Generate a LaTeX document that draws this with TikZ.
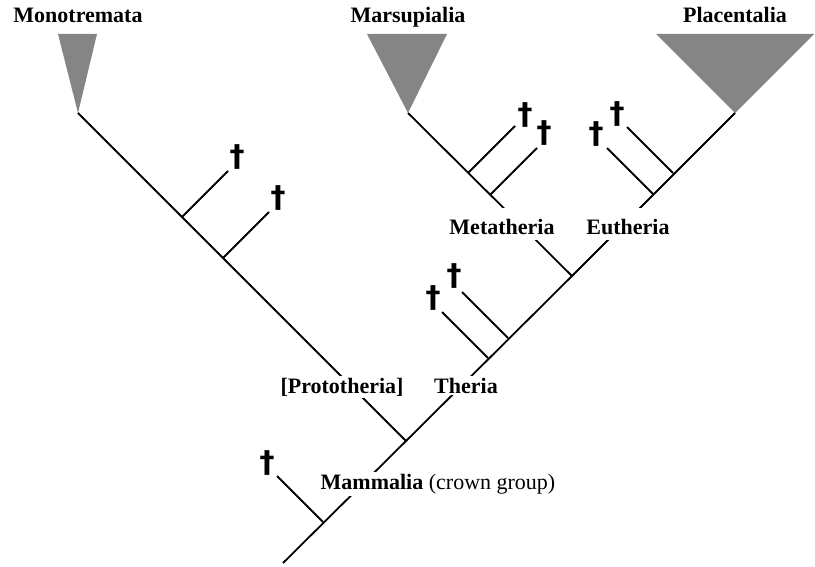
\documentclass[tikz,border=0pt]{standalone}
\usepackage{fontspec}
\setmainfont{Liberation Serif}
\newfontfamily\daggerfont{DejaVu Sans}
\tikzstyle{branch} = [draw, line width=1.8pt]
\tikzstyle{clade} = [draw=none, fill=black!48]
\tikzstyle{taxon} = [font=\fontsize{22}{26}\selectfont\bfseries, inner sep=0pt, anchor=base]
\tikzstyle{grouplabel} = [font=\fontsize{22}{26}\selectfont, fill=white, inner xsep=3pt, inner ysep=2pt, anchor=base]
\tikzstyle{extinct} = [font=\daggerfont\fontsize{30}{34}\selectfont\bfseries, inner sep=0pt]

\begin{document}
\begin{tikzpicture}[x=1pt, y=-1pt]
  \useasboundingbox (0,0) rectangle (815,567);

  \coordinate (root) at (283,563);
  \coordinate (stem) at (323,522);
  \coordinate (mammalia) at (406,441);
  \coordinate (proto_a) at (223,258);
  \coordinate (proto_b) at (182,217);
  \coordinate (theria_a) at (488,358);
  \coordinate (theria_b) at (508,338);
  \coordinate (theria) at (572,276);
  \coordinate (meta_a) at (490,195);
  \coordinate (meta_b) at (468,173);
  \coordinate (eu_a) at (653,194);
  \coordinate (eu_b) at (673,173);
  \coordinate (mono) at (78,113);
  \coordinate (mars) at (408,113);
  \coordinate (plac) at (735,113);

  \coordinate (stem_f) at (277,476);
  \coordinate (proto_a_f) at (269,212);
  \coordinate (proto_b_f) at (228,171);
  \coordinate (theria_a_f) at (442,312);
  \coordinate (theria_b_f) at (462,292);
  \coordinate (meta_a_f) at (537,148);
  \coordinate (meta_b_f) at (515,126);
  \coordinate (eu_a_f) at (607,148);
  \coordinate (eu_b_f) at (627,127);

  \fill [clade] (58,34) -- (97,34) -- (mono) -- cycle;
  \fill [clade] (367,34) -- (447,34) -- (mars) -- cycle;
  \fill [clade] (656,34) -- (814,34) -- (plac) -- cycle;

  \path [branch] (root) -- (mammalia) -- (mono);
  \path [branch] (mammalia) -- (theria) -- (mars);
  \path [branch] (theria) -- (plac);

  \path [branch] (stem) -- (stem_f);
  \path [branch] (proto_a) -- (proto_a_f);
  \path [branch] (proto_b) -- (proto_b_f);
  \path [branch] (theria_a) -- (theria_a_f);
  \path [branch] (theria_b) -- (theria_b_f);
  \path [branch] (meta_a) -- (meta_a_f);
  \path [branch] (meta_b) -- (meta_b_f);
  \path [branch] (eu_a) -- (eu_a_f);
  \path [branch] (eu_b) -- (eu_b_f);

  \node [extinct] (stem_d) at (267,463) {†};
  \node [extinct] (proto_a_d) at (278,198) {†};
  \node [extinct] (proto_b_d) at (237,157) {†};
  \node [extinct] (theria_a_d) at (433,298) {†};
  \node [extinct] (theria_b_d) at (454,276) {†};
  \node [extinct] (meta_a_d) at (544,133) {†};
  \node [extinct] (meta_b_d) at (525,115) {†};
  \node [extinct] (eu_a_d) at (596,134) {†};
  \node [extinct] (eu_b_d) at (617,114) {†};

  \node [taxon] (mono_l) at (78,23) {Monotremata};
  \node [taxon] (mars_l) at (408,23) {Marsupialia};
  \node [taxon] (plac_l) at (735,23) {Placentalia};

  \node [grouplabel, text height=25pt, text depth=3pt] (meta_l) at (502,235) {\bfseries Metatheria};
  \node [grouplabel, text height=25pt, text depth=3pt] (eu_l) at (628,235) {\bfseries Eutheria};
  \node [grouplabel] (proto_l) at (342,393) {\bfseries [Prototheria]};
  \node [grouplabel] (theria_l) at (466,393) {\bfseries Theria};
  \node [grouplabel] (mammalia_l) at (438,489) {{\bfseries Mammalia} (crown group)};
\end{tikzpicture}
\end{document}
